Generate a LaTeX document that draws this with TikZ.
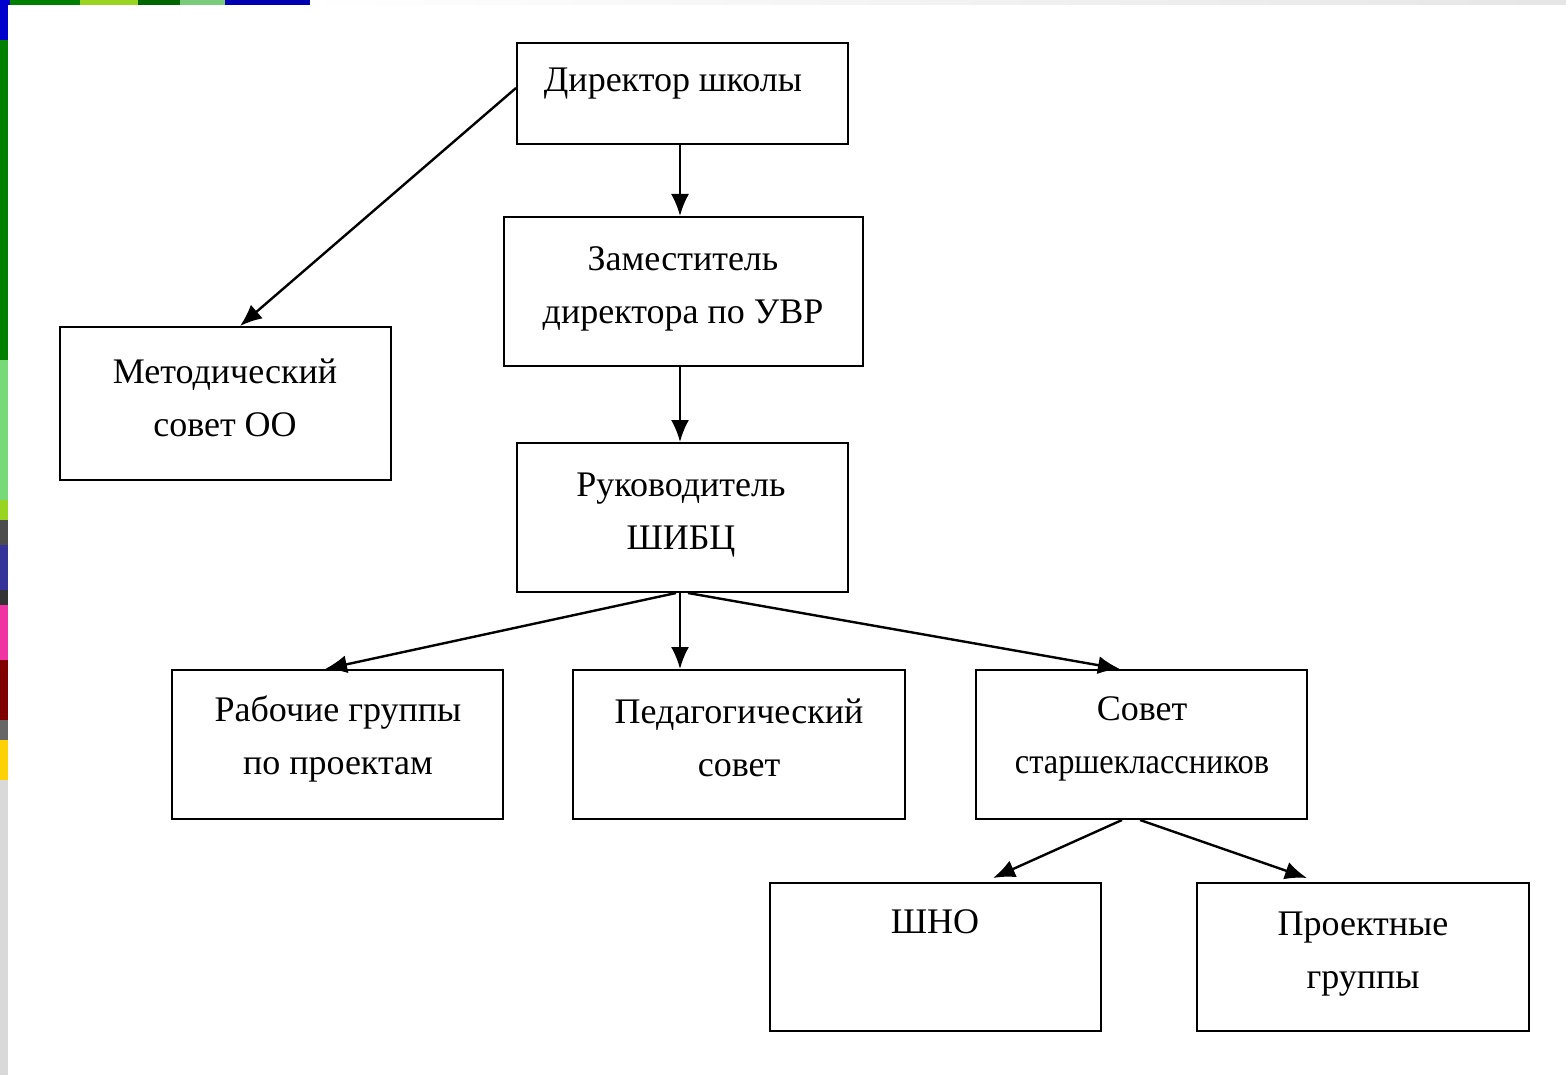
\documentclass[tikz,border=0pt]{standalone}
\usepackage{fontspec}
\setmainfont{Liberation Serif}
\usetikzlibrary{arrows.meta}
\begin{document}
\begin{tikzpicture}[x=0.5pt,y=-0.5pt,
  box/.style={draw=black,line width=1pt,rectangle,inner sep=0pt},
  txt/.style={font=\fontsize{18}{26.5}\selectfont,align=center,inner sep=0pt},
  arr/.style={line width=1.2pt,-{Latex[length=11pt,width=9pt]}}]
\useasboundingbox (0,0) rectangle (1566,1075);
% background decoration
\fill[white] (0,0) rectangle (1566,1075);
\shade[left color=white,right color=black!10] (300,0) rectangle (1566,5);
\fill[blue!80!black] (0,0) rectangle (10,5);
\fill[green!50!black] (10,0) rectangle (80,5);
\fill[yellow!60!green] (80,0) rectangle (138,5);
\fill[green!40!black] (138,0) rectangle (180,5);
\fill[green!40!white!80!black] (180,0) rectangle (225,5);
\fill[blue!70!black] (225,0) rectangle (310,5);
\fill[blue!80!black] (0,0) rectangle (8,40);
\fill[green!50!black] (0,40) rectangle (8,360);
\fill[green!45!white!85!black] (0,360) rectangle (8,500);
\fill[yellow!60!green] (0,500) rectangle (8,520);
\fill[black!70] (0,520) rectangle (8,545);
\fill[blue!50!black!80] (0,545) rectangle (8,590);
\fill[black!80] (0,590) rectangle (8,605);
\fill[magenta!80] (0,605) rectangle (8,660);
\fill[red!50!black] (0,660) rectangle (8,720);
\fill[black!60] (0,720) rectangle (8,740);
\fill[yellow!70!orange] (0,740) rectangle (8,780);
\fill[black!15] (0,780) rectangle (8,1075);
% boxes
\node[box,minimum width=165.5pt,minimum height=50.5pt] (dir) at (682.5,93.5) {};
\node[box,minimum width=179.5pt,minimum height=74.5pt] (zam) at (683.5,291.5) {};
\node[box,minimum width=165.5pt,minimum height=76.5pt] (met) at (225.5,403.5) {};
\node[box,minimum width=165.5pt,minimum height=74.5pt] (ruk) at (682.5,517.5) {};
\node[box,minimum width=165.5pt,minimum height=74.5pt] (rab) at (337.5,744.5) {};
\node[box,minimum width=166pt,minimum height=74.5pt] (ped) at (739,744.5) {};
\node[box,minimum width=165.5pt,minimum height=74.5pt] (sov) at (1141.5,744.5) {};
\node[box,minimum width=165.5pt,minimum height=74pt] (shno) at (935.5,957) {};
\node[box,minimum width=166pt,minimum height=74pt] (proj) at (1363,957) {};
% texts
\node[txt] (dirt) at (673,84) {Директор школы};
\node[txt] (zamt) at (683,289) {Заместитель\\директора по УВР};
\node[txt] (mett) at (225,398) {Методический\\совет ОО};
\node[txt] (rukt) at (681,515) {Руководитель\\ШИБЦ};
\node[txt] (rabt) at (338,739) {Рабочие группы\\по проектам};
\node[txt] (pedt) at (739,738) {Педагогический\\совет};
\node[txt] (sovt) at (1142,739) {Совет\\\scalebox{0.9}[1]{старшеклассников}};
\node[txt] (shnot) at (935,922) {ШНО};
\node[txt] (projt) at (1363,954) {Проектные\\группы};
% connectors
\draw[arr] (dir.west |- 0,88) -- (met.north -| 240,0);
\draw[arr] (dir.south -| 680,0) -- (zam.north -| 680,0);
\draw[arr] (zam.south -| 680,0) -- (ruk.north -| 680,0);
\draw[arr] (ruk.south -| 676,0) -- (rab.north -| 325,0);
\draw[arr] (ruk.south -| 680,0) -- (ped.north -| 680,0);
\draw[arr] (ruk.south -| 688,0) -- (sov.north -| 1120,0);
\draw[arr] (sov.south -| 1122,0) -- (993,878);
\draw[arr] (sov.south -| 1140,0) -- (1307,878);
\end{tikzpicture}
\end{document}
